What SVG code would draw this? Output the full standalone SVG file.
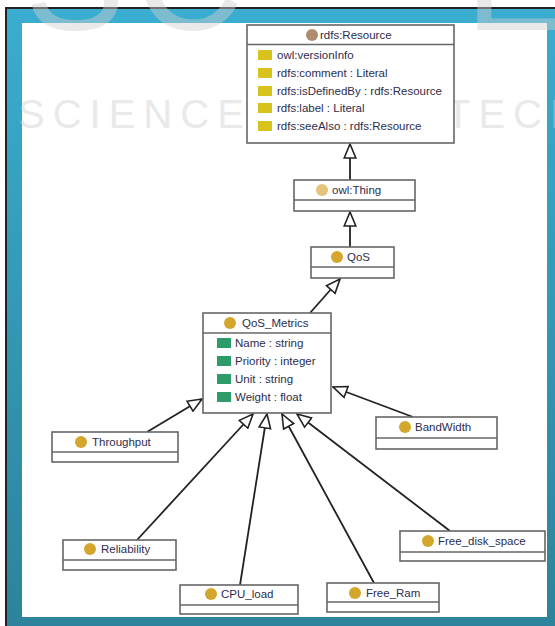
<svg xmlns="http://www.w3.org/2000/svg" width="555" height="626" viewBox="0 0 555 626">
  <defs>
    <linearGradient id="frameBlue" x1="0" y1="0" x2="0" y2="1">
      <stop offset="0" stop-color="#3aadd0"/>
      <stop offset="1" stop-color="#2c839b"/>
    </linearGradient>
    <!-- hollow triangle for generalization -->
    <marker id="gen" viewBox="0 0 16 14" refX="15" refY="7" markerWidth="16" markerHeight="14" markerUnits="userSpaceOnUse" orient="auto">
      <path d="M1,1.2 L15,7 L1,12.8 Z" fill="#fff" stroke="#222" stroke-width="1.6"/>
    </marker>
    <style>
      .box { fill: #fff; stroke: #666; stroke-width: 1.6; }
      .sep { stroke: #666; stroke-width: 1.4; }
      .lbl { font-family: "Liberation Sans", Arial, sans-serif; font-size: 11.5px; fill: #2d2d4d; }
      .cls { fill: #d4a72c; }
      .dp { fill: #d8c21c; }
      .op { fill: #2e9b6b; }
      .edge { fill: none; stroke: #222; stroke-width: 1.8; marker-end: url(#gen); }
      .wm { font-family: "Liberation Sans", Arial, sans-serif; fill: #d0d0d0; opacity: 0.45; }
    </style>
  </defs>

  <!-- page background and frame -->
  <rect x="0" y="0" width="555" height="626" fill="#fff"/>
  <rect x="5" y="7" width="550" height="619" fill="#222"/>
  <rect x="7" y="9" width="548" height="617" fill="url(#frameBlue)"/>
  <rect x="22" y="23" width="525" height="594" fill="#fff"/>

  <!-- publisher watermark, beneath the class boxes -->
  <g id="watermark">
    <text class="wm" x="18" y="128" font-size="40" letter-spacing="8">SCIENCE</text>
    <text class="wm" x="446" y="128" font-size="40" letter-spacing="8">TECHNOLOGY</text>
    <text class="wm" x="25" y="30" font-size="150" letter-spacing="10">SC</text>
    <text class="wm" x="465" y="30" font-size="150">E</text>
  </g>

  <!-- connectors -->
  <g id="connectors">
    <path class="edge" d="M350,180 L350,144"/>
    <path class="edge" d="M350,247 L350,212"/>
    <path class="edge" d="M310,313 L340,279"/>
    <path class="edge" d="M147,432 L202,399"/>
    <path class="edge" d="M413,417 L333,387"/>
    <path class="edge" d="M137,540 L253,414"/>
    <path class="edge" d="M240,585 L267,414"/>
    <path class="edge" d="M374,583 L282,414"/>
    <path class="edge" d="M450,531 L297,414"/>
  </g>

  <g id="rdfs-resource">
    <rect class="box" x="247" y="25" width="207" height="118"/>
    <line class="sep" x1="247" y1="44.5" x2="454" y2="44.5"/>
    <circle cx="312" cy="35" r="6" fill="#b08c6e"/>
    <text class="lbl" x="320" y="39">rdfs:Resource</text>
    <rect class="dp" x="258" y="50" width="14" height="10"/>
    <text class="lbl" x="277" y="59">owl:versionInfo</text>
    <rect class="dp" x="258" y="68" width="14" height="10"/>
    <text class="lbl" x="277" y="77">rdfs:comment : Literal</text>
    <rect class="dp" x="258" y="86" width="14" height="10"/>
    <text class="lbl" x="277" y="95">rdfs:isDefinedBy : rdfs:Resource</text>
    <rect class="dp" x="258" y="103" width="14" height="10"/>
    <text class="lbl" x="277" y="112">rdfs:label : Literal</text>
    <rect class="dp" x="258" y="121" width="14" height="10"/>
    <text class="lbl" x="277" y="130">rdfs:seeAlso : rdfs:Resource</text>
  </g>

  <g id="owl-thing">
    <rect class="box" x="294" y="180" width="121" height="31"/>
    <line class="sep" x1="294" y1="200" x2="415" y2="200"/>
    <circle cx="322" cy="190" r="6" fill="#e5c37a"/>
    <text class="lbl" x="332" y="194">owl:Thing</text>
  </g>

  <g id="qos">
    <rect class="box" x="311" y="247" width="83" height="31"/>
    <line class="sep" x1="311" y1="267" x2="394" y2="267"/>
    <circle class="cls" cx="337" cy="257" r="6"/>
    <text class="lbl" x="347" y="261">QoS</text>
  </g>

  <g id="qos-metrics">
    <rect class="box" x="203" y="313" width="128" height="100"/>
    <line class="sep" x1="203" y1="333" x2="331" y2="333"/>
    <circle class="cls" cx="230" cy="323" r="6"/>
    <text class="lbl" x="242" y="327">QoS_Metrics</text>
    <rect class="op" x="217" y="338" width="14" height="10"/>
    <text class="lbl" x="235" y="347">Name : string</text>
    <rect class="op" x="217" y="356" width="14" height="10"/>
    <text class="lbl" x="235" y="365">Priority : integer</text>
    <rect class="op" x="217" y="374" width="14" height="10"/>
    <text class="lbl" x="235" y="383">Unit : string</text>
    <rect class="op" x="217" y="392" width="14" height="10"/>
    <text class="lbl" x="235" y="401">Weight : float</text>
  </g>

  <g id="throughput">
    <rect class="box" x="52" y="432" width="126" height="30"/>
    <line class="sep" x1="52" y1="452" x2="178" y2="452"/>
    <circle class="cls" cx="81" cy="442" r="6"/>
    <text class="lbl" x="92" y="446">Throughput</text>
  </g>

  <g id="bandwidth">
    <rect class="box" x="376" y="417" width="121" height="32"/>
    <line class="sep" x1="376" y1="438" x2="497" y2="438"/>
    <circle class="cls" cx="405" cy="427" r="6"/>
    <text class="lbl" x="415" y="431">BandWidth</text>
  </g>

  <g id="reliability">
    <rect class="box" x="63" y="540" width="113" height="30"/>
    <line class="sep" x1="63" y1="560" x2="176" y2="560"/>
    <circle class="cls" cx="90" cy="549" r="6"/>
    <text class="lbl" x="101" y="553">Reliability</text>
  </g>

  <g id="cpu-load">
    <rect class="box" x="180" y="585" width="118" height="29"/>
    <line class="sep" x1="180" y1="605" x2="298" y2="605"/>
    <circle class="cls" cx="211" cy="594" r="6"/>
    <text class="lbl" x="221" y="598">CPU_load</text>
  </g>

  <g id="free-ram">
    <rect class="box" x="327" y="583" width="112" height="29"/>
    <line class="sep" x1="327" y1="602" x2="439" y2="602"/>
    <circle class="cls" cx="355" cy="593" r="6"/>
    <text class="lbl" x="366" y="597">Free_Ram</text>
  </g>

  <g id="free-disk-space">
    <rect class="box" x="400" y="531" width="145" height="30"/>
    <line class="sep" x1="400" y1="552" x2="545" y2="552"/>
    <circle class="cls" cx="428" cy="541" r="6"/>
    <text class="lbl" x="438" y="545">Free_disk_space</text>
  </g>
</svg>
